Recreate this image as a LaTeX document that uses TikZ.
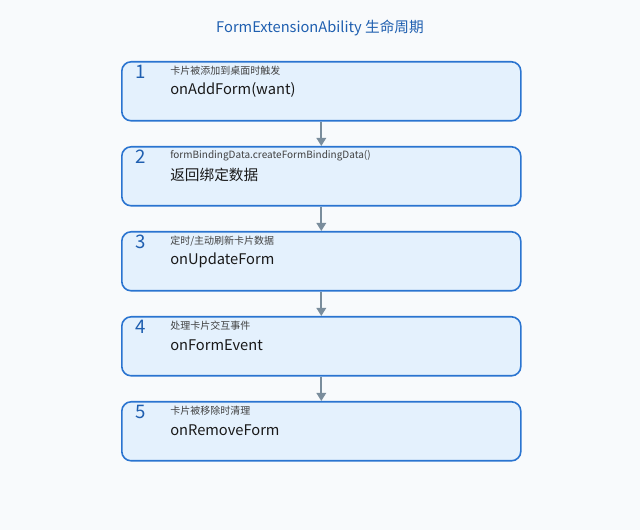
\documentclass[tikz,border=0pt]{standalone}
\usepackage{fontspec}
\setmainfont{Noto Sans CJK SC}
\usetikzlibrary{arrows.meta}
\definecolor{bg}{HTML}{F8FAFC}
\definecolor{bx}{HTML}{E4F1FD}
\definecolor{bd}{HTML}{2A74D0}
\definecolor{tt}{HTML}{1F5FB0}
\definecolor{ar}{HTML}{7A8D9C}
\begin{document}
\begin{tikzpicture}[x=0.75pt,y=-0.75pt,
 box/.style={draw=bd,fill=bx,line width=1.2pt,rounded corners=7pt,minimum width=399*0.75pt,minimum height=59*0.75pt,inner sep=0pt},
 num/.style={anchor=west,text=tt,font=\fontsize{14}{14}\selectfont,inner sep=0pt},
 sm/.style={anchor=west,text=black!75,font=\fontsize{7.5}{8}\selectfont,inner sep=0pt},
 big/.style={anchor=west,text=black!90,font=\fontsize{11}{12}\selectfont,inner sep=0pt},
 arr/.style={draw=ar,line width=1.5pt,-{Triangle[length=6pt,width=7pt]}}]
\fill[bg] (0,0) rectangle (640,530);
\node[text=tt,font=\fontsize{11}{12}\selectfont] (t) at (320,28) {FormExtensionAbility 生命周期};
\foreach \i/\y/\s/\b in {1/61/{卡片被添加到桌面时触发}/{onAddForm(want)},
 2/146/{formBindingData.createFormBindingData()}/{返回绑定数据},
 3/231/{定时/主动刷新卡片数据}/{onUpdateForm},
 4/316/{处理卡片交互事件}/{onFormEvent},
 5/401/{卡片被移除时清理}/{onRemoveForm}}{
 \node[box,anchor=north west] (b\i) at (121,\y) {};
 \node[num] (n\i) at (135,\y+11) {\i};
 \node[sm] (s\i) at (170,\y+10) {\s};
 \node[big] (m\i) at (170,\y+29) {\b};
}
\foreach \a/\b in {1/2,2/3,3/4,4/5}{\draw[arr] (b\a.south) -- (b\b.north);}
\end{tikzpicture}
\end{document}
